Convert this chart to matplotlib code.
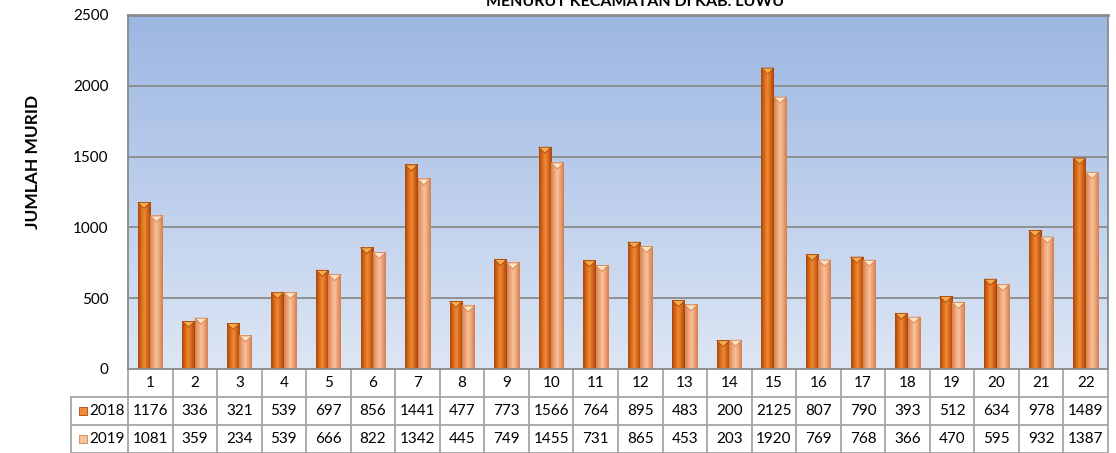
import numpy as np
import matplotlib
matplotlib.use("Agg")
import matplotlib.pyplot as plt
from matplotlib.colors import LinearSegmentedColormap, to_rgb
from matplotlib.patches import Polygon, Rectangle

plt.rcParams['font.family'] = ['Lato', 'DejaVu Sans']

categories = [str(i) for i in range(1, 23)]
series_names = ["2018", "2019"]
values_2018 = [1176, 336, 321, 539, 697, 856, 1441, 477, 773, 1566, 764, 895,
               483, 200, 2125, 807, 790, 393, 512, 634, 978, 1489]
values_2019 = [1081, 359, 234, 539, 666, 822, 1342, 445, 749, 1455, 731, 865,
               453, 203, 1920, 769, 768, 366, 470, 595, 932, 1387]
yticks = [0, 500, 1000, 1500, 2000, 2500]
title = "MENURUT KECAMATAN DI KAB. LUWU"
ylabel = "JUMLAH MURID"

W, H = 1116, 453
fig = plt.figure(figsize=(W / 100, H / 100), dpi=100)

px_left, px_right = 128, 1108
px_top, px_zero = 15, 369
ax = fig.add_axes([px_left / W, 1 - px_zero / H, (px_right - px_left) / W, (px_zero - px_top) / H])

n = len(categories)
xs = np.arange(1, n + 1)
ax.set_xlim(0.5, n + 0.5)
ax.set_ylim(0, 2500)

# background gradient
bg = LinearSegmentedColormap.from_list("bg", ["#dde6f4", "#9cb7e3"])
ax.imshow(np.linspace(0, 1, 256).reshape(-1, 1)[::-1], cmap=bg, aspect='auto',
          extent=[0, 1, 0, 1], transform=ax.transAxes, zorder=0)

# gridlines
for t in yticks[1:-1]:
    ax.axhline(t, color="#8a8a8a", lw=1.3, zorder=1)

bw = 0.28
grad = {
    "2018": (["#a9470b", "#d8681a", "#ef8c35", "#d5651a", "#a4450b"], "#f6ad4f"),
    "2019": (["#d5834f", "#eea177", "#f8c29c", "#eb9f72", "#d17f4d"], "#fde4c8"),
}
cap_h = 42
for s, vals, off in [("2018", values_2018, -bw), ("2019", values_2019, 0.0)]:
    cols, capc = grad[s]
    cmap = LinearSegmentedColormap.from_list("b" + s, cols)
    row = np.linspace(0, 1, 64).reshape(1, -1)
    for x, v in zip(xs, vals):
        x0, x1 = x + off, x + off + bw
        ax.imshow(row, cmap=cmap, aspect='auto', extent=[x0, x1, 0, v],
                  zorder=3, interpolation='bilinear')
        ax.add_patch(Polygon([(x0, v), (x1, v), ((x0 + x1) / 2, v - cap_h)],
                             closed=True, facecolor=capc, edgecolor=cols[0],
                             lw=0.6, zorder=4))

ax.set_xlim(0.5, n + 0.5)
ax.set_ylim(0, 2500)
ax.set_xticks([])
ax.set_yticks(yticks)
ax.set_yticklabels([str(t) for t in yticks], fontsize=11)
ax.tick_params(axis='y', length=0, pad=14)
for sp in ['left', 'right', 'top']:
    ax.spines[sp].set_color("#8a8a8a")
    ax.spines[sp].set_linewidth(1.3)
ax.spines['top'].set_linewidth(2.0)
ax.spines['bottom'].set_visible(False)

# title (partially cut at top, as in the source image)
fig.text(635 / W, 1 - 6 / H, title, ha='center', va='baseline',
         fontsize=11.5, fontweight='bold')
fig.text(33 / W, 1 - 162 / H, ylabel, rotation=90, ha='center', va='center',
         fontsize=12.5, fontweight='bold')

# data table
tab_left = 71
tab = fig.add_axes([tab_left / W, 0, (px_right - tab_left) / W, (H - px_zero) / H])
ppu = (px_right - px_left) / n
xl = 0.5 - (px_left - tab_left) / ppu
tab.set_xlim(xl, n + 0.5)
tab.set_ylim(0, 3)
tab.axis('off')
lc = "#a6a6a6"
lw = 1.3
for k in range(n + 1):
    tab.plot([k + 0.5, k + 0.5], [0, 3], color=lc, lw=lw, clip_on=False)
tab.plot([xl, xl], [0, 2], color=lc, lw=lw, clip_on=False)
tab.plot([0.5, n + 0.5], [3, 3], color="#8a8a8a", lw=lw, clip_on=False)
for yy in [2, 1, 0]:
    tab.plot([xl, n + 0.5], [yy, yy], color=lc, lw=lw, clip_on=False)
fs = 11
for x, c in zip(xs, categories):
    tab.text(x, 2.5, c, ha='center', va='center', fontsize=fs)
for x, v in zip(xs, values_2018):
    tab.text(x, 1.5, str(v), ha='center', va='center', fontsize=fs)
for x, v in zip(xs, values_2019):
    tab.text(x, 0.5, str(v), ha='center', va='center', fontsize=fs)
for s, yy in [("2018", 1.5), ("2019", 0.5)]:
    cols, capc = grad[s]
    sq = 8 / ppu
    tab.add_patch(Rectangle((xl + 8 / ppu, yy - 0.14), sq, 0.28,
                            facecolor=cols[2], edgecolor=cols[0], lw=0.6))
    tab.text(xl + 18 / ppu, yy, s, ha='left', va='center', fontsize=fs)

fig.savefig("out.png", dpi=100)
